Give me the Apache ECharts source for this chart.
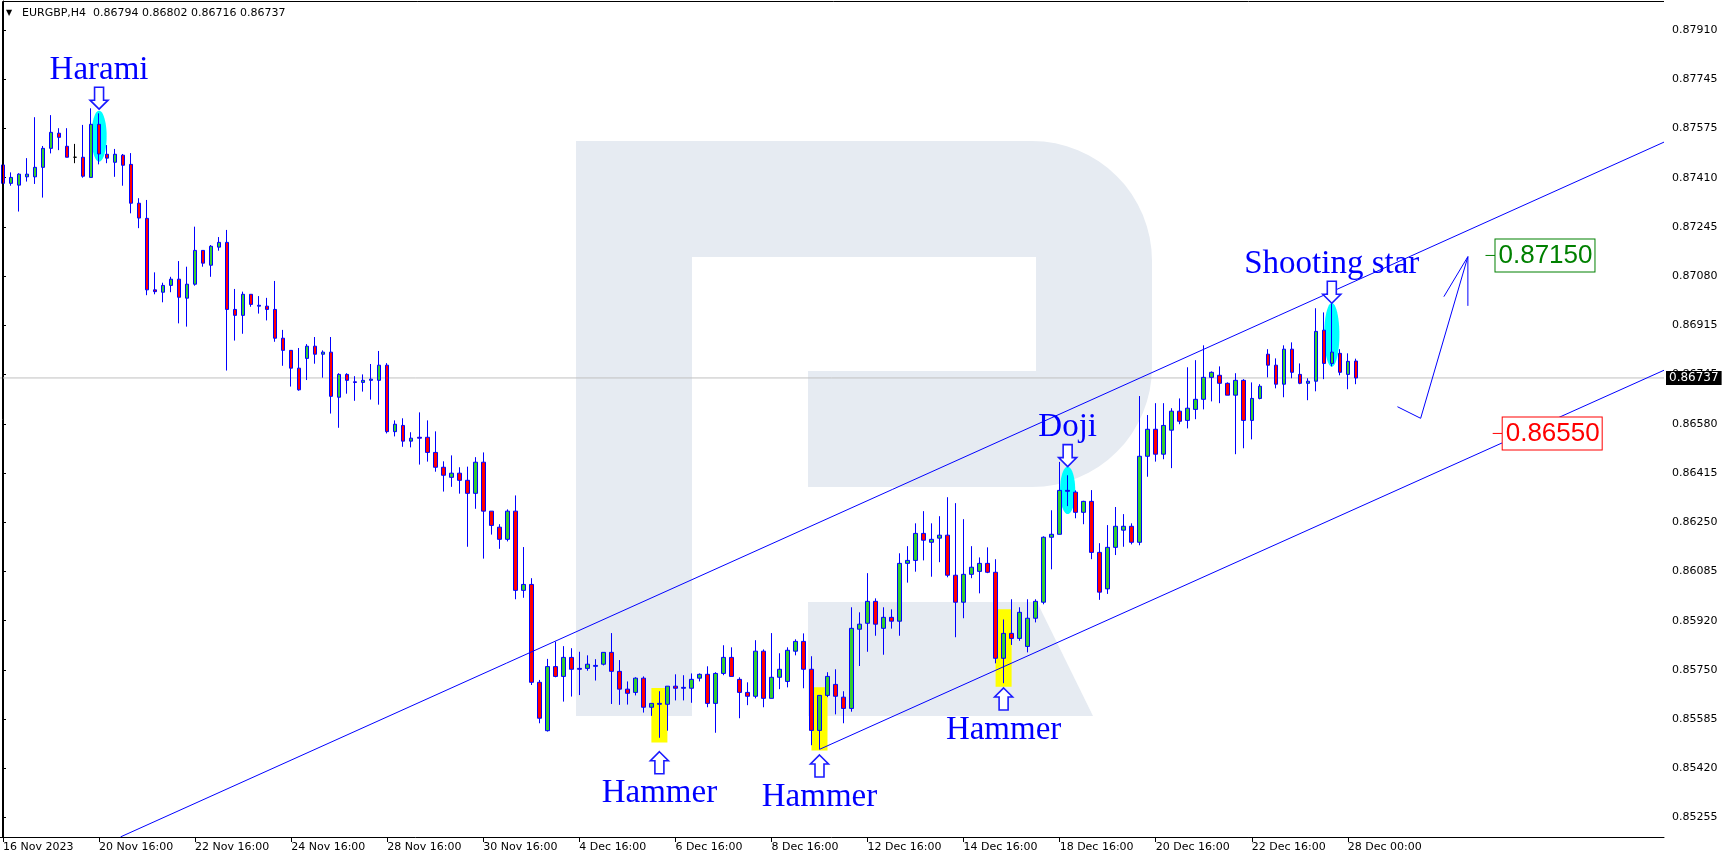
<!DOCTYPE html>
<html><head><meta charset="utf-8">
<script src="https://cdn.jsdelivr.net/npm/echarts@6/dist/echarts.min.js"></script>
<style>html,body{margin:0;padding:0;background:#fff;}#c{width:1728px;height:861px;}</style>
</head><body><div id="c"></div>
<script>
// ---------- DATA ----------
const symbolName = 'EURGBP,H4';
const xTickLabels = ['16 Nov 2023','20 Nov 16:00','22 Nov 16:00','24 Nov 16:00','28 Nov 16:00','30 Nov 16:00','4 Dec 16:00','6 Dec 16:00','8 Dec 16:00','12 Dec 16:00','14 Dec 16:00','18 Dec 16:00','20 Dec 16:00','22 Dec 16:00','28 Dec 00:00'];
const yTickValues = [0.852550,0.854209,0.855869,0.857528,0.859188,0.860847,0.862506,0.864166,0.865825,0.867484,0.869144,0.870803,0.872463,0.874122,0.875781,0.877441,0.879100];
const yTickLabels = ['0.85255','0.85420','0.85585','0.85750','0.85920','0.86085','0.86250','0.86415','0.86580','0.86745','0.86915','0.87080','0.87245','0.87410','0.87575','0.87745','0.87910'];

const opens = [
0.87455,0.87393,0.87387,0.87415,0.87415,0.87447,0.87511,0.87562,0.87518,0.87481,
0.87481,0.87413,0.87592,0.87491,0.87464,0.87488,0.87457,0.87326,0.87275,0.87034,
0.87026,0.87049,0.87070,0.87006,0.87053,0.87167,0.87117,0.87178,0.87194,0.86968,
0.86948,0.87019,0.86979,0.86979,0.86968,0.86871,0.86830,0.86770,0.86803,0.86844,
0.86817,0.86824,0.86672,0.86749,0.86724,0.86722,0.86729,0.86729,0.86780,0.86556,
0.86577,0.86524,0.86537,0.86537,0.86486,0.86436,0.86402,0.86416,0.86392,0.86348,
0.86453,0.86288,0.86234,0.86193,0.86288,0.86021,0.86041,0.85711,0.85548,0.85764,
0.85731,0.85795,0.85758,0.85758,0.85765,0.85772,0.85812,0.85748,0.85688,0.85677,
0.85725,0.85627,0.85637,0.85637,0.85698,0.85691,0.85691,0.85725,0.85738,0.85640,
0.85741,0.85795,0.85721,0.85677,0.85664,0.85816,0.85657,0.85728,0.85714,0.85816,
0.85849,0.85755,0.85549,0.85667,0.85704,0.85661,0.85623,0.85890,0.85910,0.85984,
0.85893,0.85930,0.85917,0.86112,0.86122,0.86213,0.86183,0.86197,0.86207,0.86072,
0.85981,0.86075,0.86085,0.86112,0.86082,0.85792,0.85876,0.85859,0.85832,0.85927,
0.85981,0.86200,0.86210,0.86358,0.86352,0.86284,0.86321,0.86149,0.86026,0.86166,
0.86224,0.86237,0.86183,0.86473,0.86564,0.86480,0.86561,0.86625,0.86594,0.86631,
0.86665,0.86739,0.86746,0.86719,0.86679,0.86729,0.86594,0.86668,0.86817,0.86780,
0.86716,0.86834,0.86749,0.86719,0.86726,0.86898,0.86786,0.86820,0.86749,0.86794];
const highs = [
0.87519,0.87430,0.87427,0.87478,0.87616,0.87519,0.87623,0.87579,0.87579,0.87526,
0.87590,0.87646,0.87629,0.87522,0.87509,0.87492,0.87495,0.87343,0.87337,0.87093,
0.87058,0.87078,0.87131,0.87112,0.87247,0.87167,0.87185,0.87212,0.87236,0.87037,
0.87028,0.87019,0.87013,0.87007,0.87064,0.86899,0.86830,0.86838,0.86851,0.86875,
0.86830,0.86875,0.86753,0.86753,0.86743,0.86749,0.86784,0.86828,0.86787,0.86594,
0.86601,0.86554,0.86621,0.86594,0.86557,0.86456,0.86476,0.86436,0.86438,0.86470,
0.86486,0.86288,0.86244,0.86294,0.86341,0.86167,0.86062,0.85719,0.85790,0.85848,
0.85833,0.85826,0.85814,0.85802,0.85789,0.85812,0.85877,0.85786,0.85714,0.85728,
0.85731,0.85640,0.85681,0.85698,0.85738,0.85735,0.85741,0.85741,0.85765,0.85745,
0.85836,0.85829,0.85728,0.85711,0.85853,0.85822,0.85877,0.85809,0.85829,0.85856,
0.85876,0.85799,0.85667,0.85745,0.85755,0.85681,0.85964,0.85947,0.86079,0.85994,
0.85964,0.85957,0.86146,0.86170,0.86247,0.86288,0.86247,0.86271,0.86335,0.86315,
0.86261,0.86170,0.86132,0.86166,0.86126,0.85923,0.85991,0.85964,0.85991,0.85991,
0.86203,0.86291,0.86454,0.86409,0.86358,0.86323,0.86359,0.86180,0.86241,0.86302,
0.86278,0.86247,0.86676,0.86612,0.86652,0.86652,0.86635,0.86668,0.86773,0.86797,
0.86847,0.86759,0.86776,0.86722,0.86753,0.86733,0.86722,0.86716,0.86834,0.86803,
0.86847,0.86857,0.86786,0.86736,0.86972,0.86958,0.86989,0.86834,0.86820,0.86802];
const lows = [
0.87306,0.87385,0.87298,0.87399,0.87391,0.87345,0.87494,0.87505,0.87481,0.87461,
0.87412,0.87413,0.87457,0.87461,0.87415,0.87385,0.87292,0.87242,0.87016,0.87019,
0.86992,0.87026,0.86921,0.86910,0.87048,0.87112,0.87078,0.87166,0.86762,0.86863,
0.86886,0.86977,0.86954,0.86931,0.86859,0.86778,0.86708,0.86694,0.86730,0.86785,
0.86738,0.86617,0.86569,0.86684,0.86660,0.86691,0.86664,0.86647,0.86550,0.86540,
0.86505,0.86503,0.86445,0.86455,0.86421,0.86354,0.86370,0.86347,0.86168,0.86296,
0.86128,0.86209,0.86161,0.86186,0.85991,0.85996,0.85702,0.85573,0.85545,0.85728,
0.85646,0.85663,0.85668,0.85750,0.85717,0.85768,0.85638,0.85635,0.85636,0.85667,
0.85609,0.85598,0.85524,0.85548,0.85650,0.85650,0.85642,0.85714,0.85627,0.85541,
0.85735,0.85731,0.85590,0.85634,0.85657,0.85627,0.85657,0.85688,0.85694,0.85802,
0.85691,0.85499,0.85485,0.85661,0.85603,0.85573,0.85612,0.85766,0.85814,0.85868,
0.85804,0.85892,0.85868,0.86047,0.86084,0.86122,0.86067,0.86116,0.86065,0.85863,
0.85927,0.86062,0.86011,0.86079,0.85775,0.85708,0.85837,0.85851,0.85812,0.85913,
0.85974,0.86092,0.86210,0.86305,0.86264,0.86244,0.86126,0.85989,0.86009,0.86140,
0.86168,0.86176,0.86173,0.86404,0.86455,0.86463,0.86433,0.86581,0.86567,0.86598,
0.86631,0.86658,0.86652,0.86679,0.86480,0.86500,0.86530,0.86665,0.86739,0.86702,
0.86672,0.86736,0.86716,0.86662,0.86692,0.86733,0.86776,0.86746,0.86699,0.86716];
const closes = [
0.87393,0.87413,0.87424,0.87424,0.87447,0.87511,0.87565,0.87548,0.87481,0.87481,
0.87417,0.87592,0.87492,0.87478,0.87491,0.87454,0.87326,0.87276,0.87034,0.87028,
0.87049,0.87070,0.87009,0.87053,0.87167,0.87124,0.87181,0.87194,0.86968,0.86948,
0.87019,0.86985,0.86982,0.86968,0.86871,0.86830,0.86770,0.86697,0.86844,0.86817,
0.86824,0.86675,0.86749,0.86729,0.86722,0.86729,0.86733,0.86780,0.86556,0.86581,
0.86524,0.86534,0.86534,0.86486,0.86436,0.86409,0.86416,0.86392,0.86348,0.86453,
0.86288,0.86240,0.86193,0.86288,0.86021,0.86041,0.85711,0.85590,0.85764,0.85731,
0.85795,0.85755,0.85755,0.85772,0.85768,0.85812,0.85748,0.85688,0.85674,0.85725,
0.85627,0.85640,0.85640,0.85698,0.85691,0.85694,0.85721,0.85738,0.85640,0.85741,
0.85795,0.85731,0.85677,0.85664,0.85816,0.85657,0.85728,0.85755,0.85819,0.85849,
0.85755,0.85549,0.85667,0.85731,0.85664,0.85623,0.85893,0.85907,0.85984,0.85907,
0.85930,0.85917,0.86112,0.86122,0.86213,0.86190,0.86193,0.86207,0.86072,0.85981,
0.86075,0.86099,0.86112,0.86082,0.85792,0.85876,0.85859,0.85947,0.85927,0.85984,
0.86200,0.86210,0.86358,0.86355,0.86284,0.86321,0.86149,0.86015,0.86166,0.86237,
0.86237,0.86183,0.86473,0.86564,0.86480,0.86577,0.86625,0.86591,0.86635,0.86665,
0.86739,0.86756,0.86719,0.86679,0.86729,0.86594,0.86668,0.86709,0.86780,0.86716,
0.86834,0.86756,0.86719,0.86726,0.86894,0.86786,0.86824,0.86756,0.86793,0.86737];

// pattern annotations (candle index, arrow-tip price)
const annIndex = [12, 82, 102, 125, 133, 166];
const annTip   = [0.87643, 0.85477, 0.85466, 0.85692, 0.86438, 0.86989];
const annDir   = ['down','up','up','up','down','down'];
const annText  = ['Harami','Hammer','Hammer','Hammer','Doji','Shooting star'];
// cyan highlight ellipses
const hiIndex  = [12, 133, 166];
const hiTop    = [0.87638, 0.86438, 0.86990];
const hiBottom = [0.87466, 0.86278, 0.86775];
// yellow hammer boxes
const boxIndex  = [82, 102, 125];
const boxTop    = [0.85692, 0.85694, 0.85957];
const boxBottom = [0.85508, 0.85481, 0.85696];
// channel lines & forecast
const upperChannel = [[14.69, 0.85190], [207.5, 0.87532]];
const lowerChannel = [[102, 0.85485], [207.5, 0.86763]];
const forecastPath = [[174.2, 0.86640], [177.1, 0.86601], [183.0, 0.87146]];
const forecastHead = [[180.0, 0.87011], [183.0, 0.87146], [183.0, 0.86980]];
// target levels
const tagIndex  = [185.2, 186.1];
const tagLevels = [0.87150, 0.86550];
const tagColors = ['#008000', '#ff0000'];

// ---------- CHART ----------
const slotCount = 208;
const categories = Array.from({length: slotCount}, (_, i) =>
  (i % 12 === 0 && xTickLabels[i / 12] !== undefined) ? xTickLabels[i / 12] : '');
const showCat = (idx, val) => val !== '';

const candleData = opens.map((o, i) => {
  const v = [o, closes[i], lows[i], highs[i]];
  return o === closes[i]
    ? {value: v, itemStyle: {color: '#000', color0: '#000', borderColor: '#000', borderColor0: '#000', borderColorDoji: '#000'}}
    : v;
});
const last = opens.length - 1;
const lastClose = closes[last];
const header = symbolName + '  ' + [opens[last], highs[last], lows[last], closes[last]].map(v => v.toFixed(5)).join(' ');

function ellipsePts(cx, cy, rx, ry) {
  const pts = [];
  for (let k = 0; k < 48; k++) { const a = k / 48 * Math.PI * 2; pts.push([cx + rx * Math.cos(a), cy + ry * Math.sin(a)]); }
  return pts;
}
function arcPts(cx, cy, r, a0, a1) {
  const pts = [];
  for (let k = 0; k <= 16; k++) { const a = (a0 + (a1 - a0) * k / 16) * Math.PI / 180; pts.push([cx + r * Math.cos(a), cy + r * Math.sin(a)]); }
  return pts;
}
// watermark logo outline (decorative, pixel layout)
const logoMain = [[576, 141]].concat(arcPts(1032, 261, 120, -90, 0), arcPts(1032, 367, 120, 0, 90),
  [[808, 487], [808, 371], [1036, 371], [1036, 257], [692, 257], [692, 716], [576, 716]]);
const logoLeg = [[808, 602], [1037, 602], [1093, 716], [808, 716]];
const WM = '#e6ebf2';

const chart = echarts.init(document.getElementById('c'), null, {renderer: 'canvas'});
chart.setOption({
  animation: false,
  backgroundColor: '#fff',
  grid: {left: -1, right: 64, top: 1, bottom: 24, containLabel: false, outerBoundsMode: 'none', show: false},
  xAxis: [{
    type: 'category', data: categories, boundaryGap: true,
    axisLine: {show: true, lineStyle: {color: '#000', width: 1}},
    axisTick: {show: true, length: 5, alignWithLabel: true, interval: showCat, lineStyle: {color: '#000'}},
    axisLabel: {interval: showCat, align: 'left', color: '#000', fontSize: 11, fontFamily: 'DejaVu Sans', margin: 5},
    splitLine: {show: false}
  }, {
    type: 'value', min: -0.5, max: slotCount - 0.5, show: false, splitLine: {show: false}
  }],
  yAxis: {
    type: 'value', position: 'right', min: 0.851896, max: 0.880077, scale: true,
    axisLine: {show: true, lineStyle: {color: '#000', width: 1}},
    axisTick: {show: true, length: 3, customValues: yTickValues, lineStyle: {color: '#000'}},
    axisLabel: {customValues: yTickValues, color: '#000', fontSize: 11, fontFamily: 'DejaVu Sans', margin: 8,
      formatter: v => { let b = 0; yTickValues.forEach((t, k) => { if (Math.abs(t - v) < Math.abs(yTickValues[b] - v)) b = k; }); return yTickLabels[b]; }},
    splitLine: {show: false}
  },
  graphic: [
    {type: 'polygon', z: 0, silent: true, shape: {points: logoMain}, style: {fill: WM}},
    {type: 'polygon', z: 0, silent: true, shape: {points: logoLeg}, style: {fill: WM}},
    {type: 'polyline', z: 10, silent: true, shape: {points: [[2.5, 837], [2.5, 1.5], [1664, 1.5]]}, style: {stroke: '#000', lineWidth: 1, fill: null}},
    {type: 'text', z: 10, x: 6, y: 13, style: {text: '▼', font: '8px "DejaVu Sans"', fill: '#000', verticalAlign: 'middle'}},
    {type: 'text', z: 10, x: 22, y: 13, style: {text: header, font: '11px "DejaVu Sans"', fill: '#000', verticalAlign: 'middle'}}
  ],
  series: [
    {
      type: 'custom', xAxisIndex: 1, yAxisIndex: 0, z: 1, silent: true,
      data: boxIndex.map((d, k) => [d, boxTop[k], boxBottom[k]]),
      encode: {x: 0, y: [1, 2]},
      renderItem: (params, api) => {
        const t = api.coord([api.value(0), api.value(1)]);
        const b = api.coord([api.value(0), api.value(2)]);
        const w = api.size([2, 0])[0];
        return {type: 'rect', shape: {x: t[0] - w / 2, y: t[1], width: w, height: b[1] - t[1]}, style: {fill: '#ffff00'}};
      }
    },
    {
      type: 'custom', xAxisIndex: 1, yAxisIndex: 0, z: 1, silent: true,
      data: hiIndex.map((d, k) => [d, hiTop[k], hiBottom[k]]),
      encode: {x: 0, y: [1, 2]},
      renderItem: (params, api) => {
        const t = api.coord([api.value(0), api.value(1)]);
        const b = api.coord([api.value(0), api.value(2)]);
        const rx = api.size([1, 0])[0] * 0.95;
        return {type: 'polygon', shape: {points: ellipsePts(t[0], (t[1] + b[1]) / 2, rx, (b[1] - t[1]) / 2)}, style: {fill: '#00ffff'}};
      }
    },
    {
      type: 'line', xAxisIndex: 1, yAxisIndex: 0, z: 1, silent: true, symbol: 'none',
      data: [[-0.5, lastClose], [slotCount - 0.5, lastClose]],
      lineStyle: {color: '#c0c0c0', width: 1}
    },
    {
      type: 'candlestick', xAxisIndex: 0, yAxisIndex: 0, z: 3, silent: true, barWidth: 4,
      data: candleData,
      itemStyle: {color: '#32cd32', color0: '#ff0000', borderColor: '#0000ff', borderColor0: '#0000ff', borderColorDoji: '#0000ff', borderWidth: 1}
    },
    {type: 'line', xAxisIndex: 1, yAxisIndex: 0, z: 4, silent: true, symbol: 'none', data: upperChannel, lineStyle: {color: '#0000ff', width: 1}},
    {type: 'line', xAxisIndex: 1, yAxisIndex: 0, z: 4, silent: true, symbol: 'none', data: lowerChannel, lineStyle: {color: '#0000ff', width: 1}},
    {type: 'line', xAxisIndex: 1, yAxisIndex: 0, z: 4, silent: true, symbol: 'none', data: forecastPath, lineStyle: {color: '#0000ff', width: 1}},
    {type: 'line', xAxisIndex: 1, yAxisIndex: 0, z: 4, silent: true, symbol: 'none', data: forecastHead, lineStyle: {color: '#0000ff', width: 1}},
    {
      type: 'custom', xAxisIndex: 1, yAxisIndex: 0, z: 5, silent: true,
      data: annIndex.map((d, k) => [d, annTip[k]]),
      encode: {x: 0, y: 1},
      renderItem: (params, api) => {
        const k = params.dataIndex;
        const p = api.coord([api.value(0), api.value(1)]);
        const x = p[0], y = p[1];
        const s = annDir[k] === 'down' ? -1 : 1;
        const L = 22, hl = 9, hw = 9, sw = 4.5;
        const pts = [[x, y], [x + hw, y + s * hl], [x + sw, y + s * hl], [x + sw, y + s * L], [x - sw, y + s * L], [x - sw, y + s * hl], [x - hw, y + s * hl]];
        const ty = y + s * (L + (s < 0 ? 20 : 17)) + 3;
        return {type: 'group', children: [
          {type: 'polygon', shape: {points: pts}, style: {fill: '#fff', stroke: '#1a1aff', lineWidth: 1.6}},
          {type: 'text', x: x, y: ty, style: {text: annText[k], fill: '#0000ff', font: '33px "Liberation Serif"', align: 'center', verticalAlign: 'middle'}}
        ]};
      }
    },
    {
      type: 'custom', xAxisIndex: 1, yAxisIndex: 0, z: 5, silent: true,
      data: tagIndex.map((d, k) => [d, tagLevels[k]]),
      encode: {x: 0, y: 1},
      renderItem: (params, api) => {
        const k = params.dataIndex;
        const p = api.coord([api.value(0), api.value(1)]);
        const c = tagColors[k];
        return {type: 'group', children: [
          {type: 'line', shape: {x1: p[0], y1: p[1], x2: p[0] + 11, y2: p[1]}, style: {stroke: c, lineWidth: 1}},
          {type: 'text', x: p[0] + 10, y: p[1], style: {text: tagLevels[k].toFixed(5), fill: c, font: '26px "Liberation Sans"', align: 'left', verticalAlign: 'middle', lineHeight: 26, backgroundColor: '#fff', borderColor: c, borderWidth: 1, padding: [3, 2, 3, 3]}}
        ]};
      }
    },
    {
      type: 'custom', xAxisIndex: 1, yAxisIndex: 0, z: 6, silent: true,
      data: [[slotCount - 0.5, lastClose]],
      encode: {x: 0, y: 1},
      renderItem: (params, api) => {
        const p = api.coord([api.value(0), api.value(1)]);
        return {type: 'text', x: p[0] + 2, y: p[1], style: {text: lastClose.toFixed(5), fill: '#fff', font: '12px "DejaVu Sans"', align: 'left', verticalAlign: 'middle', backgroundColor: '#000', padding: [1, 3, 1, 3]}};
      }
    }
  ]
});
</script></body></html>
